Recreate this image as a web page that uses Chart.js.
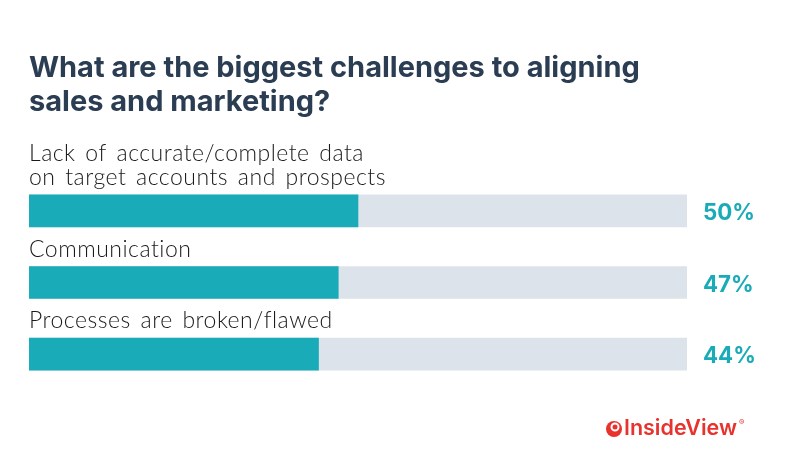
<!DOCTYPE html>
<html>
<head>
<meta charset="utf-8">
<script src="https://cdn.jsdelivr.net/npm/chart.js@4"></script>
<style>
  html, body { margin: 0; padding: 0; background: #fff; }
  #wrap { width: 790px; height: 466px; position: relative; }
</style>
</head>
<body>
<div id="wrap"><canvas id="chart" width="790" height="466"></canvas></div>
<script>
// data
var categories = [
    ["Lack of accurate/complete data", "on target accounts and prospects"],
    ["Communication"],
    ["Processes are broken/flawed"]
];
var values = [50, 47, 44];
var fullScale = [100, 100, 100];
var titleLines = ["What are the biggest challenges to aligning", "sales and marketing?"];

var teal = "#1aabb9";
var track = "#dde3ea";
var titleFamily = "Inter";
var labelFamily = "Lato";

// pick font sizes so text widths match the original artwork
var mctx = document.createElement("canvas").getContext("2d");
function fitSize(text, weight, family, target) {
    mctx.font = weight + " 100px " + family;
    return 100 * target / mctx.measureText(text).width;
}
var titleSize = fitSize(titleLines[0], 700, titleFamily, 611);
var pctSize = fitSize("50%", 700, "Inter", 52);
var logoSize = fitSize("InsideView", 600, "Inter", 113);

var barText = {
    id: "barText",
    afterDatasetsDraw: function(chart) {
        var ctx = chart.ctx;
        var meta = chart.getDatasetMeta(0);
        var area = chart.chartArea;
        ctx.save();
        for (var i = 0; i < meta.data.length; i++) {
            var bar = meta.data[i];
            var top = bar.y - bar.height / 2;
            var lines = categories[i];
            ctx.fillStyle = "#1a1a1a";
            ctx.font = "300 23px " + labelFamily;
            ctx.letterSpacing = "0.5px";
            ctx.wordSpacing = "3px";
            ctx.textAlign = "left";
            ctx.textBaseline = "alphabetic";
            for (var l = 0; l < lines.length; l++) {
                var y = top - 10 - (lines.length - 1 - l) * 23.5;
                ctx.fillText(lines[l], area.left, y);
            }
            ctx.letterSpacing = "0px";
            ctx.wordSpacing = "0px";
            ctx.fillStyle = teal;
            ctx.font = "700 " + pctSize + "px Inter";
            ctx.fillText(values[i] + "%", area.right + 16, bar.y + 9);
        }
        // logo
        ctx.fillStyle = "#e8322d";
        ctx.beginPath();
        ctx.arc(614, 429, 8, 0, Math.PI * 2);
        ctx.fill();
        ctx.strokeStyle = "#fff";
        ctx.lineWidth = 2;
        ctx.beginPath();
        ctx.arc(615, 427, 3.5, 0, Math.PI * 2);
        ctx.stroke();
        ctx.fillStyle = "#e8322d";
        ctx.font = "600 " + logoSize + "px Inter";
        ctx.fillText("InsideView", 624, 435);
        ctx.font = "8px Inter";
        ctx.fillText("®", 739, 425);
        ctx.restore();
    }
};

new Chart(document.getElementById("chart"), {
    type: "bar",
    data: {
        labels: categories.map(function(c) { return c.join(" "); }),
        datasets: [{
            data: values,
            backgroundColor: teal,
            barThickness: 32,
            grouped: false,
            order: 0
        }, {
            data: fullScale,
            backgroundColor: track,
            barThickness: 32,
            grouped: false,
            order: 1
        }]
    },
    options: {
        indexAxis: "y",
        responsive: false,
        animation: false,
        layout: { padding: { left: 29, right: 103, top: 52, bottom: 76 } },
        scales: {
            x: { display: false, min: 0, max: 100 },
            y: { display: false }
        },
        plugins: {
            legend: { display: false },
            tooltip: { enabled: false },
            title: {
                display: true,
                text: titleLines,
                align: "start",
                color: "#2b3d52",
                font: { family: titleFamily, size: titleSize, weight: "bold", lineHeight: 33.5 / titleSize },
                padding: { top: 0, bottom: 56 }
            }
        }
    },
    plugins: [barText]
});
</script>
</body>
</html>
